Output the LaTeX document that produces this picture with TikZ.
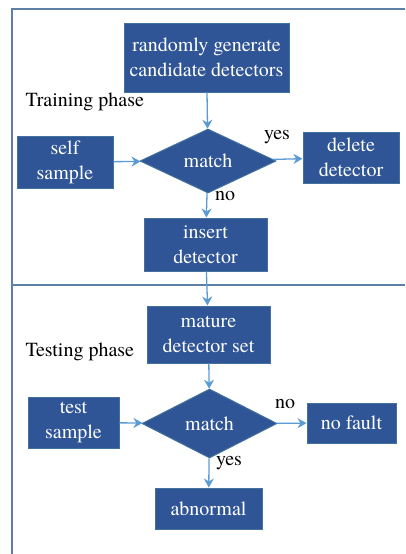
\documentclass[tikz,border=0pt]{standalone}
\usepackage{fontspec}
\setmainfont{texgyretermes-regular.otf}
\usetikzlibrary{shapes.geometric,arrows.meta}
\definecolor{boxfill}{HTML}{2F5597}
\definecolor{boxline}{HTML}{41719C}
\definecolor{arrowcol}{HTML}{5B9BD5}
\definecolor{framecol}{HTML}{5F80A6}
\begin{document}
\begin{tikzpicture}[x=1pt,y=-1pt,
        blk/.style={draw=boxline,line width=1pt,fill=boxfill,text=white,align=center,inner sep=1pt,
            font=\fontsize{20}{25}\selectfont},
        dec/.style={diamond,draw=boxline,line width=1pt,fill=boxfill,text=white,inner sep=0pt,
            font=\fontsize{20}{25}\selectfont},
        flow/.style={draw=arrowcol,line width=1.3pt,-{Stealth[length=9pt,width=10pt]}},
        lbl/.style={font=\fontsize{20}{25}\selectfont}]
    \useasboundingbox (0,0) rectangle (405,554);
    \draw[framecol,line width=1.5pt] (12,554) -- (12,9) -- (405,9);
    \draw[framecol,line width=1.5pt] (12,285) -- (405,285);

    \node[blk,minimum width=165pt,minimum height=69pt] (gen) at (206.5,57.5) {randomly generate\\candidate detectors};
    \node[lbl,anchor=west] (train) at (22,102) {Training phase};
    \node[dec,minimum width=136pt,minimum height=64pt] (match1) at (208,161) {match};
    \node[blk,minimum width=96pt,minimum height=52pt] (self) at (65,162) {self\\sample};
    \node[blk,minimum width=96pt,minimum height=51pt] (delete) at (351,157.5) {delete\\detector};
    \node[blk,minimum width=123pt,minimum height=53pt] (insert) at (205.5,244.5) {insert\\detector};
    \node[lbl] (yes1) at (277,137) {yes};
    \node[lbl] (no1) at (225,196) {no};

    \node[blk,minimum width=123pt,minimum height=57pt] (mature) at (208.5,334.5) {mature\\detector set};
    \node[lbl,anchor=west] (test) at (22,352) {Testing phase};
    \node[dec,minimum width=135pt,minimum height=69pt] (match2) at (209.5,423.5) {match};
    \node[blk,minimum width=91pt,minimum height=51pt] (sample) at (73.5,422.5) {test\\sample};
    \node[blk,minimum width=89pt,minimum height=40pt] (nofault) at (351.5,423) {no fault};
    \node[blk,minimum width=107pt,minimum height=41pt] (abnormal) at (208.5,508.5) {abnormal};
    \node[lbl] (no2) at (285,404) {no};
    \node[lbl] (yes2) at (229,463) {yes};

    \draw[flow] (gen) -- (match1);
    \draw[flow] (self) -- (match1);
    \draw[flow] (match1) -- (delete);
    \draw[flow] (match1) -- (insert);
    \draw[flow] (insert) -- (mature);
    \draw[flow] (mature) -- (match2);
    \draw[flow] (sample) -- (match2);
    \draw[flow] (match2) -- (nofault);
    \draw[flow] (match2) -- (abnormal);
\end{tikzpicture}
\end{document}
